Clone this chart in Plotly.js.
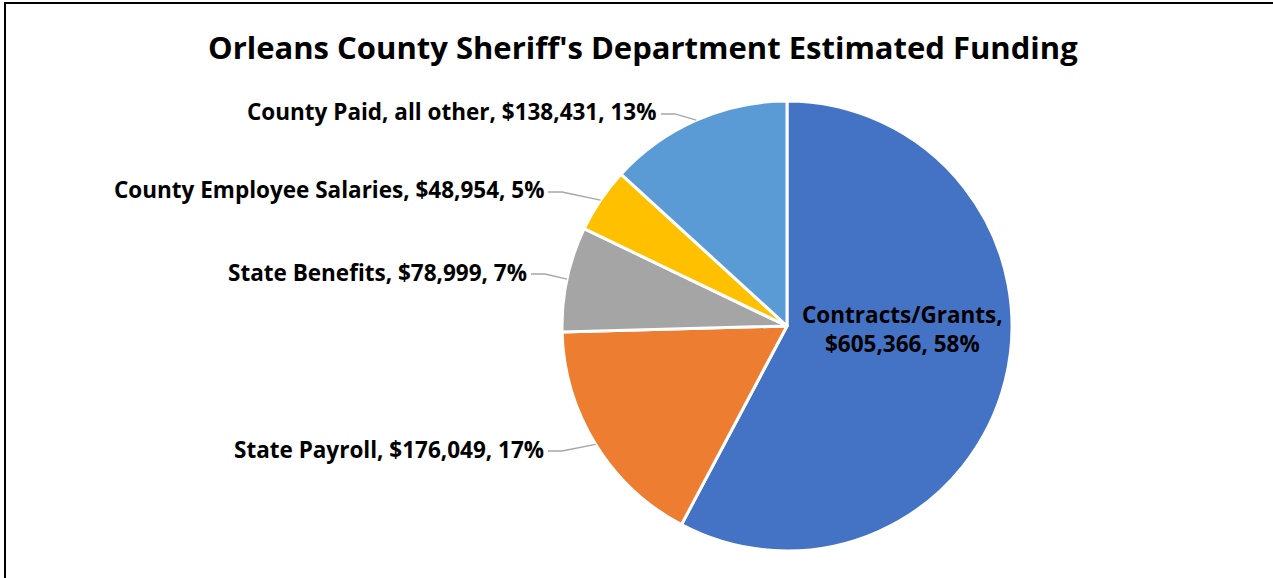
<!DOCTYPE html>
<html>
<head>
<meta charset="utf-8">
<script src="https://cdn.plot.ly/plotly-3.0.1.min.js"></script>
<style>
  html, body { margin: 0; padding: 0; background: #fff; }
  #wrap { position: relative; width: 1273px; height: 578px; overflow: hidden; }
  #chart { position: absolute; left: 0; top: 0; width: 1273px; height: 578px; }
  #frame { position: absolute; left: 4px; top: 2px; width: 1300px; height: 600px;
           border-top: 2px solid #000; border-left: 2px solid #000; pointer-events: none; }
</style>
</head>
<body>
<div id="wrap">
  <div id="chart"></div>
  <div id="frame"></div>
</div>
<script>
// ---- data ----
const categories = ["Contracts/Grants", "State Payroll", "State Benefits", "County Employee Salaries", "County Paid, all other"];
const values = [605366, 176049, 78999, 48954, 138431];
const colors = ["#4472C4", "#ED7D31", "#A5A5A5", "#FFC000", "#5B9BD5"];
const chartTitle = "Orleans County Sheriff's Department Estimated Funding";

// ---- layout geometry (pixels) ----
const W = 1273, H = 578;
const cx = 787, cy = 326, R = 225;
// label placement: [right/center x, center y, anchor]
const labelPos = [
  [903, 329, "center"],
  [546, 449, "right"],
  [529, 272, "right"],
  [546, 190, "right"],
  [659, 112, "right"]
];
const FONT = "'Open Sans', 'Noto Sans', sans-serif";

const total = values.reduce((a, b) => a + b, 0);
const fmt = v => "$" + v.toLocaleString("en-US");

// whole-number percentages that sum to 100 (largest remainder)
const raw = values.map(v => v / total * 100);
const pcts = raw.map(Math.floor);
let left = 100 - pcts.reduce((a, b) => a + b, 0);
raw.map((r, i) => [r - Math.floor(r), i]).sort((a, b) => b[0] - a[0])
   .slice(0, left).forEach(([_, i]) => pcts[i] += 1);

const px = x => x / W;
const py = y => 1 - y / H;

const annotations = [];
const shapes = [];
let cum = 0;
values.forEach((v, i) => {
  const a0 = cum / total * 360;
  cum += v;
  const a1 = cum / total * 360;
  const mid = (a0 + a1) / 2 * Math.PI / 180;
  const ex = cx + R * Math.sin(mid);
  const ey = cy - R * Math.cos(mid);
  const [lx, ly, anchor] = labelPos[i];
  let text;
  if (anchor === "center") {
    text = "<b>" + categories[i] + ",<br>" + fmt(v) + ", " + pcts[i] + "%</b>";
  } else {
    text = "<b>" + categories[i] + ", " + fmt(v) + ", " + pcts[i] + "%</b>";
    const sx = lx + 2, sy = ly + 2;
    shapes.push({
      type: "path", xref: "paper", yref: "paper",
      path: `M ${px(sx)} ${py(sy)} L ${px(sx + 14)} ${py(sy)} L ${px(ex)} ${py(ey)}`,
      line: { color: "#A6A6A6", width: 1.3 }
    });
  }
  annotations.push({
    xref: "paper", yref: "paper",
    x: px(lx), y: py(ly),
    xanchor: anchor, yanchor: "middle",
    text: text, showarrow: false, align: "center",
    font: { family: FONT, size: 22.5, color: "#000" }
  });
});

const trace = {
  type: "pie",
  labels: categories,
  values: values,
  sort: false,
  direction: "clockwise",
  rotation: 0,
  textinfo: "none",
  hoverinfo: "label+value+percent",
  marker: { colors: colors, line: { color: "#FFFFFF", width: 3 } },
  domain: { x: [px(cx - R), px(cx + R)], y: [py(cy + R), py(cy - R)] },
  showlegend: false
};

const layout = {
  width: W, height: H,
  margin: { l: 0, r: 0, t: 0, b: 0 },
  paper_bgcolor: "#FFFFFF",
  title: {
    text: "<b>" + chartTitle + "</b>",
    x: 0.505, xanchor: "center",
    y: py(48), yanchor: "middle",
    font: { family: FONT, size: 31, color: "#000" }
  },
  annotations: annotations,
  shapes: shapes,
  showlegend: false
};

Plotly.newPlot("chart", [trace], layout, { displayModeBar: false, staticPlot: true });
</script>
</body>
</html>
